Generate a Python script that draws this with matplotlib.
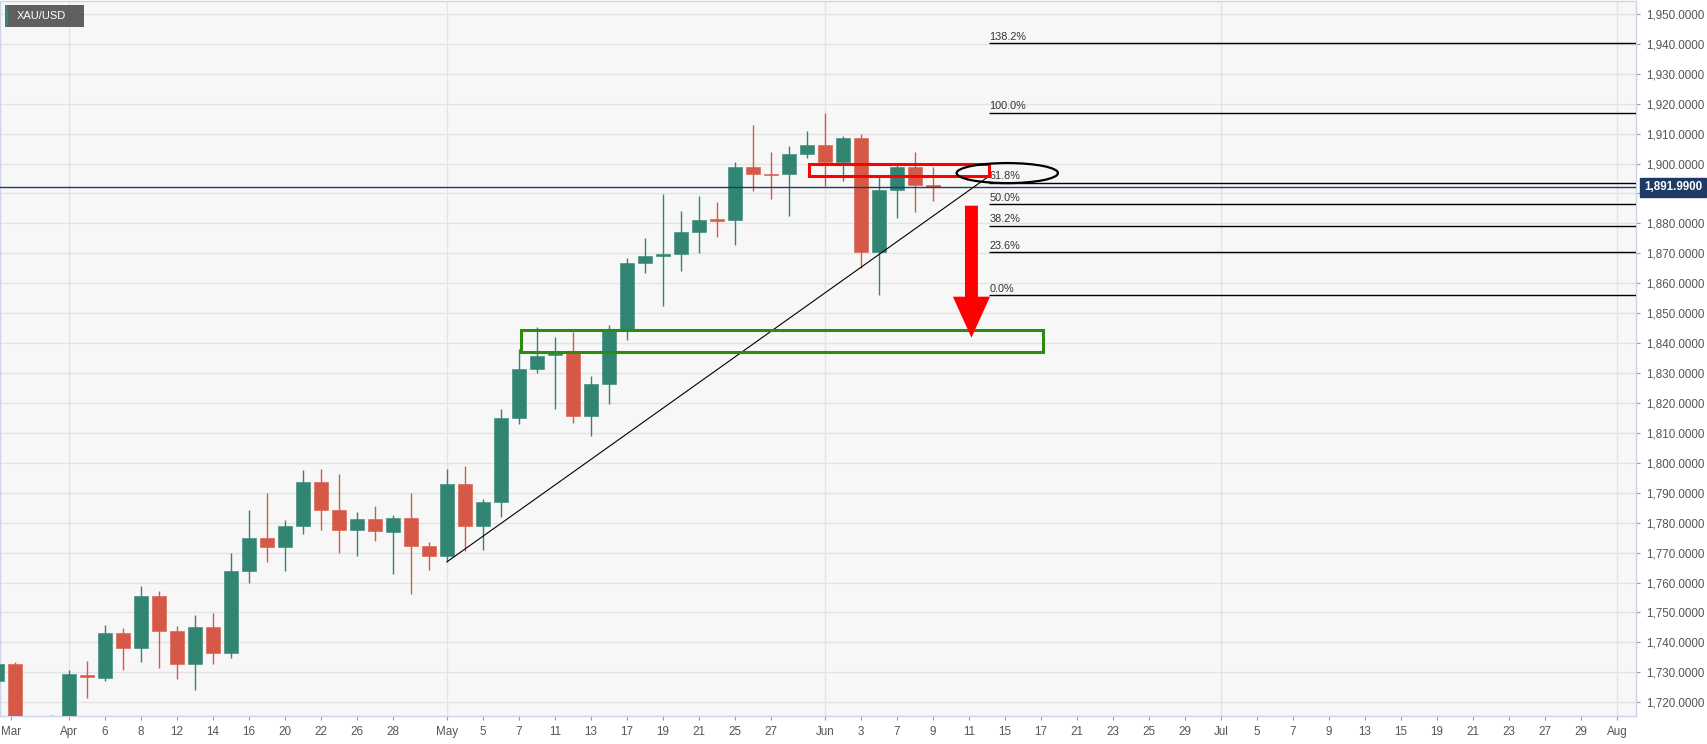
import matplotlib.pyplot as plt
import matplotlib.patches as mpatches
import matplotlib.transforms as mtransforms
from matplotlib.ticker import FuncFormatter, MultipleLocator
import numpy as np
import pandas as pd

plt.rcParams['font.family'] = ['Liberation Sans', 'DejaVu Sans']

# daily XAU/USD candles
dates = ['2021-03-26', '2021-03-29', '2021-03-30', '2021-03-31', '2021-04-01',
         '2021-04-05', '2021-04-06', '2021-04-07', '2021-04-08', '2021-04-09',
         '2021-04-12', '2021-04-13', '2021-04-14', '2021-04-15', '2021-04-16',
         '2021-04-19', '2021-04-20', '2021-04-21', '2021-04-22', '2021-04-23',
         '2021-04-26', '2021-04-27', '2021-04-28', '2021-04-29', '2021-04-30',
         '2021-05-03', '2021-05-04', '2021-05-05', '2021-05-06', '2021-05-07',
         '2021-05-10', '2021-05-11', '2021-05-12', '2021-05-13', '2021-05-14',
         '2021-05-17', '2021-05-18', '2021-05-19', '2021-05-20', '2021-05-21',
         '2021-05-24', '2021-05-25', '2021-05-26', '2021-05-27', '2021-05-28',
         '2021-05-31', '2021-06-01', '2021-06-02', '2021-06-03', '2021-06-04',
         '2021-06-07', '2021-06-08', '2021-06-09']
opens = [1727.2, 1732.8, 1712.0, 1685.0, 1708.0,
         1729.1, 1728.2, 1743.1, 1738.0, 1755.6,
         1743.8, 1732.8, 1745.3, 1736.6, 1763.9,
         1774.8, 1771.8, 1778.9, 1793.6, 1784.2,
         1777.6, 1781.1, 1777.0, 1781.7, 1772.1,
         1768.9, 1792.9, 1778.9, 1786.8, 1815.0,
         1831.3, 1836.1, 1837.4, 1815.6, 1826.3,
         1844.7, 1866.7, 1869.2, 1869.6, 1877.2,
         1881.3, 1881.0, 1899.0, 1896.4, 1896.6,
         1903.3, 1906.3, 1900.6, 1908.6, 1870.6,
         1891.3, 1898.8, 1892.7]
highs = [1737.2, 1733.3, 1714.7, 1715.6, 1730.8,
         1733.8, 1745.8, 1744.7, 1758.8, 1757.3,
         1745.4, 1749.1, 1749.7, 1769.7, 1784.1,
         1790.0, 1780.8, 1797.7, 1798.0, 1796.1,
         1783.7, 1785.7, 1782.7, 1790.0, 1773.7,
         1798.0, 1799.0, 1788.0, 1818.0, 1838.0,
         1845.4, 1841.9, 1843.8, 1829.0, 1846.0,
         1868.3, 1875.1, 1889.9, 1884.0, 1889.3,
         1887.0, 1900.4, 1912.8, 1903.8, 1906.0,
         1910.8, 1916.9, 1909.1, 1909.7, 1896.3,
         1900.0, 1903.8, 1898.8]
lows = [1721.9, 1705.0, 1684.0, 1677.0, 1705.0,
        1721.3, 1727.2, 1730.8, 1733.3, 1731.3,
        1727.8, 1724.1, 1732.7, 1734.7, 1760.0,
        1767.0, 1763.7, 1776.3, 1777.7, 1770.0,
        1769.0, 1774.0, 1762.7, 1756.3, 1764.3,
        1766.7, 1770.5, 1771.0, 1781.9, 1813.0,
        1829.9, 1818.0, 1813.3, 1809.1, 1819.7,
        1841.0, 1863.3, 1852.3, 1864.0, 1870.0,
        1875.4, 1872.7, 1890.8, 1888.3, 1882.3,
        1901.9, 1892.4, 1894.3, 1865.2, 1855.9,
        1881.7, 1883.8, 1887.4]
closes = [1732.8, 1712.0, 1685.0, 1708.0, 1729.4,
          1728.3, 1743.1, 1738.0, 1755.6, 1743.8,
          1732.8, 1745.3, 1736.6, 1763.9, 1774.8,
          1771.8, 1778.8, 1793.6, 1784.2, 1777.6,
          1781.1, 1777.1, 1781.7, 1772.1, 1768.9,
          1792.9, 1778.9, 1786.8, 1815.0, 1831.3,
          1835.8, 1837.4, 1815.6, 1826.3, 1844.1,
          1866.6, 1869.2, 1869.6, 1877.1, 1881.2,
          1880.9, 1899.0, 1896.6, 1896.2, 1903.3,
          1906.3, 1900.6, 1908.6, 1870.6, 1891.3,
          1898.8, 1892.7, 1892.0]

last_price = 1891.99

fib_labels = ['0.0%', '23.6%', '38.2%', '50.0%', '61.8%', '100.0%', '138.2%']
fib_prices = [1855.9, 1870.3, 1879.2, 1886.4, 1893.6, 1916.9, 1940.2]

# drawings, in trading-day slots / price
fib_x0 = 55.1
trend_x = [25.0, 55.1]
trend_y = [1766.9, 1895.7]
green_box = (29.1, 1837.0, 58.1, 1844.5)
red_box = (45.1, 1895.7, 55.1, 1899.8)
ellipse_c = (56.13, 1896.8)
ellipse_wh = (5.63, 6.7)
arrow_x = 54.14
arrow_top, arrow_base, arrow_tip = 1885.9, 1855.5, 1841.8

GREEN = '#338573'
RED = '#d65947'
NAVY = '#1d3b66'

# trading calendar (no weekends, Good Friday off)
cal = pd.bdate_range('2021-03-26', '2021-08-02')
cal = cal[cal != pd.Timestamp('2021-04-02')]
x = cal.get_indexer(pd.to_datetime(dates))

opens = np.array(opens); closes = np.array(closes)
highs = np.array(highs); lows = np.array(lows)
up = closes >= opens
cols = np.where(up, GREEN, RED)

fig = plt.figure(figsize=(17.07, 7.44), dpi=100)
ax = fig.add_axes([0, 28 / 744, 1636 / 1707, 715 / 744])
ax.set_facecolor('#f7f7f7')

ax.set_xlim(0.17, 91.06)
ax.set_ylim(1715.4, 1954.3)

# grid
ax.yaxis.set_major_locator(MultipleLocator(10))
ax.grid(axis='y', color='#e3e3e3', lw=1, zorder=0)
month_starts = [i for i in range(1, len(cal)) if cal[i].month != cal[i - 1].month]
for m in month_starts:
    ax.axvline(m, color='#e3e3e3', lw=1, zorder=0)
ax.set_axisbelow(True)

# candles
body_bottom = np.minimum(opens, closes)
body_h = np.maximum(np.abs(closes - opens), 0.4)
ax.vlines(x, lows, highs, colors=cols, lw=1, zorder=3)
ax.bar(x, body_h, bottom=body_bottom, width=0.74, color=cols,
       edgecolor=cols, linewidth=0.4, zorder=3.1)

# last price line
ax.axhline(last_price, color=NAVY, lw=1, zorder=4)

# fibonacci levels
ax.hlines(fib_prices, fib_x0, 91.06, color='black', lw=1, zorder=4)
for lab, p in zip(fib_labels, fib_prices):
    ax.annotate(lab, (fib_x0, p), xytext=(0.5, 1.2), textcoords='offset points',
                ha='left', va='bottom', fontsize=7.8, color='#333333', zorder=5)

# trendline
ax.plot(trend_x, trend_y, color='black', lw=0.8, zorder=4)

# boxes
gx0, gy0, gx1, gy1 = green_box
ax.add_patch(mpatches.Rectangle((gx0, gy0), gx1 - gx0, gy1 - gy0, fill=False,
                                ec='#2f8b10', lw=2.2, zorder=5))
rx0, ry0, rx1, ry1 = red_box
ax.add_patch(mpatches.Rectangle((rx0, ry0), rx1 - rx0, ry1 - ry0, fill=False,
                                ec='#ff0000', lw=2.2, zorder=5))
ax.add_patch(mpatches.Ellipse(ellipse_c, ellipse_wh[0], ellipse_wh[1], fill=False,
                              ec='black', lw=1.6, zorder=6))

# red arrow
sw, hw = 0.72, 2.06
arrow_pts = [(arrow_x - sw / 2, arrow_top), (arrow_x + sw / 2, arrow_top),
             (arrow_x + sw / 2, arrow_base), (arrow_x + hw / 2, arrow_base),
             (arrow_x, arrow_tip), (arrow_x - hw / 2, arrow_base),
             (arrow_x - sw / 2, arrow_base)]
ax.add_patch(mpatches.Polygon(arrow_pts, closed=True, fc='#ff0000', ec='none', zorder=6))

# axes look
for s in ax.spines.values():
    s.set_color('#cfd3e6')
    s.set_linewidth(1)
ax.yaxis.tick_right()


def price_fmt(v, pos):
    # the price tag sits on top of the label closest to the last price
    if abs(v - last_price) < 4:
        return ''
    return '{:,.4f}'.format(v)


ax.yaxis.set_major_formatter(FuncFormatter(price_fmt))
ax.tick_params(axis='y', length=3, width=0.8, color='#9a9a9a', pad=4,
               labelsize=8.4, labelcolor='#555555')

ticks, labels = [0.78], ['Mar']
bounds = month_starts + [len(cal) + 1]
for k, m in enumerate(month_starts):
    p = m
    while p <= bounds[k + 1] - 2 and p < len(cal):
        ticks.append(p)
        labels.append(cal[p].strftime('%b') if p == m else str(cal[p].day))
        p += 2
ax.set_xticks(ticks)
ax.set_xticklabels(labels)
ax.tick_params(axis='x', length=3, width=0.8, color='#9a9a9a', pad=4,
               labelsize=8.4, labelcolor='#555555')

# last price tag on the axis
trans = mtransforms.blended_transform_factory(ax.transAxes, ax.transData)
ax.text(1.0 + 8 / 1636, last_price, '{:,.4f}'.format(last_price), transform=trans,
        ha='left', va='center', fontsize=8.4, fontweight='bold', color='white',
        bbox=dict(boxstyle='square,pad=0.3', fc=NAVY, ec=NAVY), zorder=10, clip_on=False)

# symbol tag
fig.add_artist(mpatches.Rectangle((5 / 1707, 1 - 27 / 744), 79 / 1707, 22 / 744,
                                  transform=fig.transFigure, fc='#4f4f4f', alpha=0.9,
                                  ec='none', zorder=10))
fig.add_artist(mpatches.Rectangle((5 / 1707, 1 - 27 / 744), 2.5 / 1707, 22 / 744,
                                  transform=fig.transFigure, fc='#2f8a72',
                                  ec='none', zorder=11))
fig.text(17 / 1707, 1 - 16 / 744, 'XAU/USD', ha='left', va='center', fontsize=8,
         color='white', zorder=12)

fig.savefig('out.png', dpi=100)
